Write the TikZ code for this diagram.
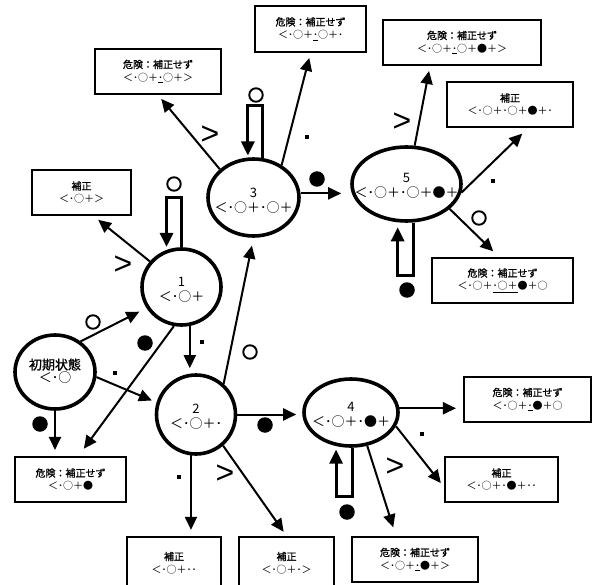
\documentclass[tikz,border=0pt]{standalone}
\usepackage{fontspec}
\setmainfont{Noto Sans CJK JP}
\newfontfamily\jpt{Noto Sans CJK JP}[AutoFakeBold=1.2]
\newfontfamily\latf{Liberation Sans}
\usetikzlibrary{arrows.meta,shapes.geometric}
\newcommand{\nf}{\fontsize{13}{15}\selectfont}
\newcommand{\numf}{\fontsize{13}{17}\selectfont}
\newcommand{\udt}{\underline{･}}
\newcommand{\dgr}{{\jpt\bfseries 危険：補正せず}}
\newcommand{\hsh}{{\jpt\bfseries 補正}}
\begin{document}
\begin{tikzpicture}[x=1pt,y=-1pt,
  st/.style={ellipse, draw, line width=3.6pt, inner sep=0pt},
  tx/.style={align=center, inner sep=0pt},
  bx/.style={rectangle, draw, line width=2.3pt, inner sep=0pt, align=center, font=\fontsize{10}{13}\selectfont},
  ed/.style={line width=2pt, -{Triangle[length=13pt,width=12pt]}},
  lp/.style={line width=3pt, -{Triangle[length=14pt,width=13pt]}},
  oc/.style={circle, draw, line width=1.9pt, minimum size=13.5pt, inner sep=0pt},
  fc/.style={circle, fill, minimum size=15.5pt, inner sep=0pt},
  sq/.style={rectangle, fill, minimum size=4pt, inner sep=0pt},
  gt/.style={font=\latf\fontsize{32}{32}\selectfont, inner sep=0pt}]
\useasboundingbox (0,0) rectangle (599,585);
% states
\node[st, minimum width=80pt, minimum height=74pt] (init) at (55,372) {};
\node[tx] (initt) at ([yshift=1pt]init.center) {{\jpt\bfseries\fontsize{13}{18}\selectfont 初期状態}\\[1pt]{\nf ＜･○}};
\node[st, minimum width=79pt, minimum height=76pt] (n1) at (181.5,287) {};
\node[tx] (n1t) at ([yshift=-3pt]n1.center) {\numf 1\\[3pt]{\nf ＜･○＋}};
\node[st, minimum width=79pt, minimum height=79pt] (n2) at (196,414.5) {};
\node[tx] (n2t) at ([yshift=-2pt]n2.center) {\numf 2\\[3pt]{\nf ＜･○＋･}};
\node[st, minimum width=91pt, minimum height=77pt] (n3) at (253.5,197.5) {};
\node[tx] (n3t) at ([yshift=-3pt]n3.center) {\numf 3\\[3pt]{\nf ＜･○＋･○＋}};
\node[st, minimum width=94pt, minimum height=67pt] (n4) at (351,412.5) {};
\node[tx] (n4t) at ([yshift=-2pt]n4.center) {\numf 4\\[3pt]{\nf ＜･○＋･●＋}};
\node[st, minimum width=109pt, minimum height=74pt] (n5) at (406.5,184) {};
\node[tx] (n5t) at ([yshift=-2pt]n5.center) {\numf 5\\[3pt]{\nf ＜･○＋･○＋●＋}};
% boxes
\node[bx, minimum width=125.8pt, minimum height=44.8pt] (A) at (158,71.5) {\dgr\\＜･○＋\udt○＋＞};
\node[bx, minimum width=110.8pt, minimum height=45.8pt] (B) at (310.5,29) {\dgr\\＜･○＋\udt○＋･};
\node[bx, minimum width=157.8pt, minimum height=44.8pt] (C) at (462,42.5) {\dgr\\＜･○＋\udt○＋●＋＞};
\node[bx, minimum width=125.8pt, minimum height=44.8pt] (D) at (510,104.5) {\hsh\\＜･○＋･○＋●＋･};
\node[bx, minimum width=98.8pt, minimum height=44.8pt] (E) at (81.5,192.5) {\hsh\\＜･○＋＞};
\node[bx, minimum width=140.8pt, minimum height=44.8pt] (F) at (502.5,280.5) {\dgr\\＜･○＋\underline{･○＋}●＋○};
\node[bx, minimum width=110.8pt, minimum height=44.8pt] (G) at (70.5,479.5) {\dgr\\＜･○＋●};
\node[bx, minimum width=93.8pt, minimum height=52pt] (H) at (174,563) {\hsh\\＜･○＋･･};
\node[bx, minimum width=94.8pt, minimum height=52pt] (I) at (286.5,563) {\hsh\\＜･○＋･＞};
\node[bx, minimum width=125.8pt, minimum height=44.8pt] (J) at (415,559.5) {\dgr\\＜･○＋\udt●＋＞};
\node[bx, minimum width=126.8pt, minimum height=44.8pt] (K) at (527.5,399.5) {\dgr\\＜･○＋\udt●＋○};
\node[bx, minimum width=112.8pt, minimum height=44.8pt] (L) at (501.5,479.5) {\hsh\\＜･○＋･●＋･･};
% edges
\draw[ed, shorten >=8pt] (init.50) -- (n1.211);
\draw[ed, shorten >=5pt] (init.-7) -- (n2.163);
\draw[ed, shorten >=6pt] (init.south) -- (init.south |- G.north);
\draw[ed, shorten >=9pt] (n1.-101) -- ([xshift=8pt]G.north);
\draw[ed, shorten >=5pt] (n1.-78) -- (n1.-78 |- n2.north);
\draw[lp, shorten >=3pt] (n1.north) -- ++(0,-50) -| (n1.112);
\draw[ed, shorten >=6pt] (n1.141) -- ([xshift=12pt]E.south);
\draw[ed, shorten >=8pt] (n2.48) -- (n3.south);
\draw[ed, shorten >=6pt] (n2.east) -- (n2.east -| n4.west);
\draw[ed, shorten >=6pt] (n2.-97) -- (n2.-97 |- H.north);
\draw[ed, shorten >=5pt] (n2.-49) -- (I.north);
\draw[lp, shorten >=2pt] (n3.77) -- ++(0,-52) -| (n3.98);
\draw[ed, shorten >=5pt] (n3.140) -- (A.south);
\draw[ed, shorten >=5pt] (n3.49) -- (B.south);
\draw[ed, shorten >=9pt] (n3.5) -- (n3.5 -| n5.west);
\draw[ed, shorten >=5pt] (n5.78) -- ([xshift=-32pt]C.south);
\draw[ed, shorten >=8pt] (n5.-9.5) -- ([xshift=18pt]D.south);
\draw[ed, shorten >=8pt] (n5.-30) -- ([xshift=-3.5pt]F.north);
\draw[lp, shorten >=5pt] (n5.-80) -- ++(0,53) -| (n5.-103);
\draw[ed, shorten >=7pt] (n4.5) -- (n4.5 -| K.west);
\draw[ed, shorten >=5pt] (n4.-17.5) -- ([yshift=-7.5pt]L.west);
\draw[ed, shorten >=9pt] (n4.-64) -- ([xshift=-19pt]J.north);
\draw[lp, shorten >=3.5pt] (n4.-88) -- ++(0,49) -| (n4.-114);
% labels
\node[oc] (l1) at (93,322) {};
\node[sq] (l2) at (115,373) {};
\node[fc] (l3) at (40,424) {};
\node[fc] (l4) at (145,343) {};
\node[sq] (l5) at (202,342) {};
\node[oc] (l6) at (174,184) {};
\node[gt] (l7) at (123,265) {>};
\node[oc] (l8) at (250,352) {};
\node[fc] (l9) at (265,425) {};
\node[sq] (l10) at (179,477) {};
\node[gt] (l11) at (225,474) {>};
\node[oc] (l12) at (256,95) {};
\node[gt] (l13) at (210,135) {>};
\node[sq] (l14) at (307,137) {};
\node[fc] (l15) at (317,179) {};
\node[gt] (l16) at (402,122) {>};
\node[sq] (l17) at (493,181) {};
\node[oc] (l18) at (479,218) {};
\node[fc] (l19) at (407,290) {};
\node[sq] (l20) at (422,434) {};
\node[gt] (l21) at (395,467) {>};
\node[fc] (l22) at (347,512) {};
\end{tikzpicture}
\end{document}
